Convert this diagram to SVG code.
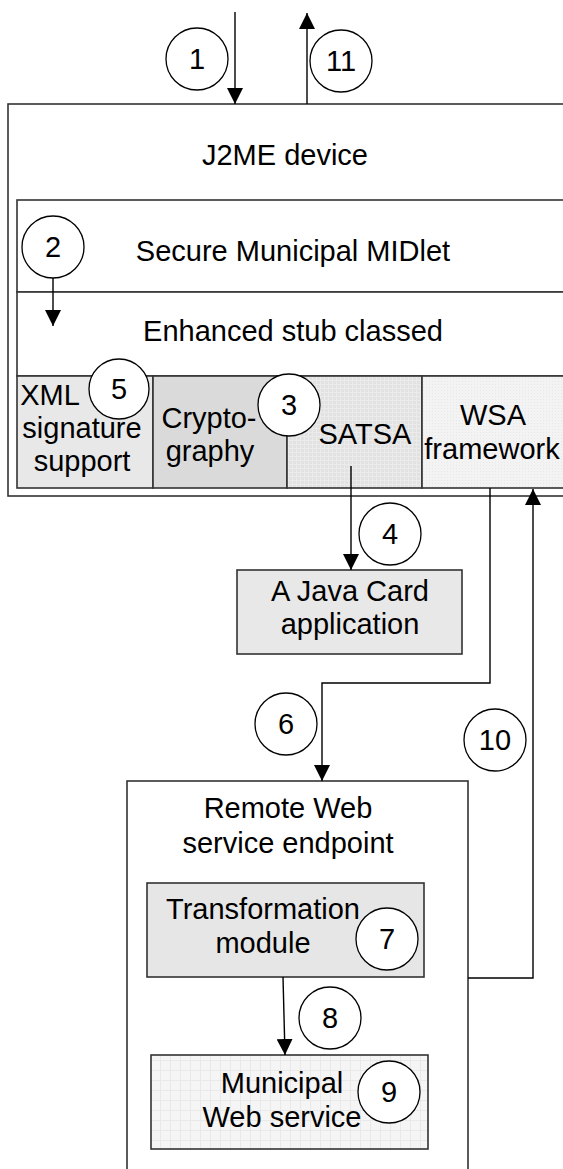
<svg xmlns="http://www.w3.org/2000/svg" width="563" height="1169" viewBox="0 0 563 1169">
  <style>
    text { font-family: "Liberation Sans", Arial, sans-serif; font-size: 29px; fill: #000; text-anchor: middle; }
    .box { stroke: #333; stroke-width: 1.6; }
    .line { stroke: #000; stroke-width: 1.4; fill: none; }
    .step { fill: #fff; stroke: #000; stroke-width: 1.3; }
  </style>
  <defs>
    <marker id="arrow" markerWidth="16" markerHeight="16" refX="16" refY="8" orient="auto" markerUnits="userSpaceOnUse">
      <path d="M0,0 L16,8 L0,16 Z" fill="#000"/>
    </marker>
    <pattern id="gridSatsa" width="4" height="4" patternUnits="userSpaceOnUse">
      <rect width="4" height="4" fill="#e2e2e2"/>
      <path d="M0,0.5 H4 M0.5,0 V4" stroke="#ebebeb" stroke-width="1"/>
    </pattern>
    <pattern id="dotsWsa" width="3" height="3" patternUnits="userSpaceOnUse">
      <rect width="3" height="3" fill="#f3f3f3"/>
      <rect x="0" y="0" width="1" height="1" fill="#e8e8e8"/>
    </pattern>
    <pattern id="gridService" width="10" height="10" patternUnits="userSpaceOnUse">
      <rect width="10" height="10" fill="#f5f5f5"/>
      <path d="M0,0.5 H10 M0.5,0 V10" stroke="#e9e9e9" stroke-width="1"/>
    </pattern>
  </defs>

  <!-- J2ME device container -->
  <g id="j2me-device">
    <rect class="box" x="8" y="104" width="570" height="392" fill="#fff"/>
    <text x="285" y="165">J2ME device</text>
  </g>

  <!-- MIDlet layer -->
  <g id="midlet">
    <rect class="box" x="17" y="200" width="560" height="92" fill="#fff"/>
    <text x="293" y="261">Secure Municipal MIDlet</text>
  </g>

  <!-- Stub classes layer -->
  <g id="stub">
    <rect class="box" x="17" y="292" width="560" height="84" fill="#fff"/>
    <text x="293" y="341">Enhanced stub classed</text>
  </g>

  <!-- Component row -->
  <g id="xml-signature">
    <rect class="box" x="17" y="376" width="136" height="112" fill="#e8e8e8"/>
    <text x="50" y="405">XML</text>
    <text x="82" y="438">signature</text>
    <text x="82" y="471">support</text>
  </g>
  <g id="cryptography">
    <rect class="box" x="153" y="376" width="134" height="112" fill="#dadada"/>
    <text x="209" y="428">Crypto-</text>
    <text x="210" y="461">graphy</text>
  </g>
  <g id="satsa">
    <rect class="box" x="287" y="376" width="135" height="112" fill="url(#gridSatsa)"/>
    <text x="365" y="444">SATSA</text>
  </g>
  <g id="wsa">
    <rect class="box" x="422" y="376" width="155" height="112" fill="url(#dotsWsa)"/>
    <text x="493" y="425">WSA</text>
    <text x="492" y="459">framework</text>
  </g>

  <!-- Java Card applet -->
  <g id="java-card">
    <rect class="box" x="237" y="570" width="225" height="84" fill="#e8e8e8"/>
    <text x="350" y="601">A Java Card</text>
    <text x="350" y="634">application</text>
  </g>

  <!-- Remote endpoint -->
  <g id="remote-endpoint">
    <rect class="box" x="127" y="781" width="341" height="420" fill="#fff"/>
    <text x="288" y="818">Remote Web</text>
    <text x="288" y="853">service endpoint</text>
  </g>
  <g id="transformation">
    <rect class="box" x="147" y="883" width="277" height="94" fill="#e6e6e6"/>
    <text x="263" y="919">Transformation</text>
    <text x="263" y="953">module</text>
  </g>
  <g id="municipal-service">
    <rect class="box" x="151" y="1055" width="277" height="94" fill="url(#gridService)"/>
    <text x="282" y="1093">Municipal</text>
    <text x="282" y="1127">Web service</text>
  </g>

  <!-- Connectors -->
  <g id="connectors">
    <line class="line" x1="235" y1="12" x2="235" y2="104" marker-end="url(#arrow)"/>
    <line class="line" x1="307" y1="104" x2="307" y2="13" marker-end="url(#arrow)"/>
    <line class="line" x1="53" y1="278" x2="53" y2="326" marker-end="url(#arrow)"/>
    <line class="line" x1="351" y1="466" x2="351" y2="570" marker-end="url(#arrow)"/>
    <polyline class="line" points="490,488 490,683 322,683 322,781" marker-end="url(#arrow)"/>
    <line class="line" x1="283" y1="977" x2="285" y2="1055" marker-end="url(#arrow)"/>
    <polyline class="line" points="468,978 533,978 533,489" marker-end="url(#arrow)"/>
  </g>

  <!-- Numbered step markers -->
  <g id="step-1"><circle class="step" cx="197" cy="59" r="31"/><text x="197" y="69">1</text></g>
  <g id="step-11"><circle class="step" cx="341" cy="61" r="31"/><text x="341" y="71">11</text></g>
  <g id="step-2"><circle class="step" cx="53" cy="247" r="31"/><text x="53" y="257">2</text></g>
  <g id="step-5"><circle class="step" cx="119" cy="389" r="30"/><text x="119" y="399">5</text></g>
  <g id="step-3"><circle class="step" cx="289" cy="405" r="31"/><text x="289" y="415">3</text></g>
  <g id="step-4"><circle class="step" cx="390" cy="534" r="31"/><text x="390" y="544">4</text></g>
  <g id="step-6"><circle class="step" cx="286" cy="724" r="31"/><text x="286" y="734">6</text></g>
  <g id="step-10"><circle class="step" cx="495" cy="740" r="31"/><text x="495" y="750">10</text></g>
  <g id="step-7"><circle class="step" cx="387" cy="939" r="31"/><text x="387" y="949">7</text></g>
  <g id="step-8"><circle class="step" cx="330" cy="1018" r="31"/><text x="330" y="1028">8</text></g>
  <g id="step-9"><circle class="step" cx="389" cy="1092" r="31"/><text x="389" y="1102">9</text></g>
</svg>
